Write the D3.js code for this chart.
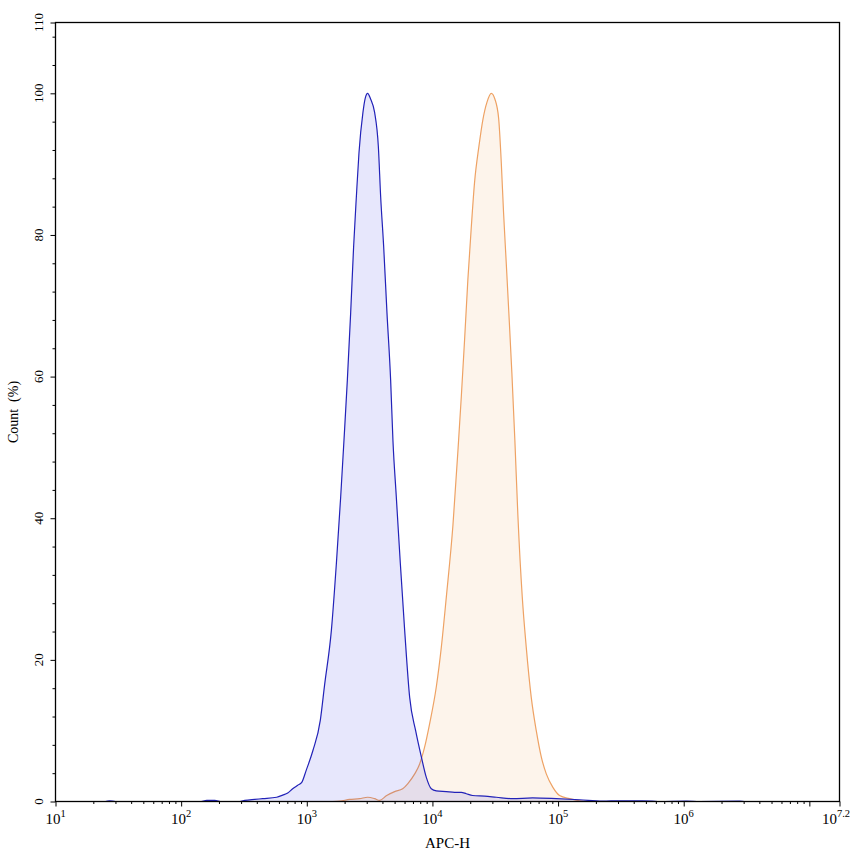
<!DOCTYPE html>
<html lang="en">
<head>
<meta charset="UTF-8">
<title>APC-H histogram</title>
<script src="https://d3js.org/d3.v7.min.js"></script>
<style>
  body { margin: 0; background: #fff; }
  svg { display: block; font-family: "Liberation Serif", "Times New Roman", serif; }
</style>
</head>
<body>
<svg id="chart" width="853" height="856"></svg>
<script>
// APC-H value / count (%) pairs
const blueApc = [20, 25, 27, 30, 141, 160, 185, 211, 293, 321, 385, 446, 576, 643, 705, 772, 847, 912,
  989, 1119, 1282, 1387, 1570, 1720, 1861, 1977, 2103, 2235, 2360, 2481, 2603, 2799, 2917, 3051,
  3219, 3467, 3712, 3873, 4091, 4348, 4650, 4849, 5159, 5554, 6012, 6590, 7352, 8163, 8941, 9797,
  10735, 12889, 15020, 16982, 18600, 20893, 26022, 32220, 43442, 62653, 96780, 148253,
  225800, 308300, 444600, 564000, 641000, 1050000, 1340000, 2780000, 3100000, 17000000];
const blueCount = [0, 0, 0.1, 0, 0, 0.15, 0.15, 0, 0, 0.15, 0.3, 0.4, 0.6, 0.9, 1.2, 1.8, 2.3, 2.7,
  4.4, 7.2, 11.5, 16.5, 24.2, 33.6, 43, 51, 59.5, 69, 78.4, 85.4, 91.6, 97.3, 99.3, 100,
  99.2, 97.3, 92.5, 85.4, 78.4, 69, 59.5, 51, 43, 33.6, 24.2, 14.7, 10, 6.3, 3.4, 1.8,
  1.5, 1.4, 1.3, 1.3, 1.1, 0.85, 0.75, 0.6, 0.4, 0.5, 0.4, 0.25,
  0.05, 0.1, 0.08, 0.05, 0, 0.05, 0, 0.05, 0, 0];

const orangeApc = [1607, 1828, 2193, 2635, 3051, 3467, 3800, 4325, 5003, 5797, 6353, 7228, 7914,
  8673, 9506, 10740, 11775, 12906, 14564, 16155, 16982, 18030, 19150, 20370, 21660, 23440,
  25220, 27230, 29420, 31400, 33640, 35330, 36840, 38700, 40600, 42890, 45310, 47860, 51870, 55810,
  61180, 67070, 73520, 80590, 90960, 102800, 123500, 148300, 178200];
const orangeCount = [0, 0.05, 0.3, 0.4, 0.6, 0.4, 0.15, 0.85, 1.4, 1.8, 2.5, 3.9, 5.3,
  7.7, 11, 16.2, 21.8, 28.9, 39, 51, 57.2, 65.2, 73.7, 81, 87.5, 92.5,
  96.3, 98.8, 100, 99.2, 96.5, 90.2, 83.1, 76, 68.9, 60.5, 51, 40.5, 28.9, 21.8,
  14.7, 10, 6.3, 3.9, 2.0, 0.85, 0.4, 0.1, 0];

// axis settings
const xMaxExp = 7.24;
const xLabelExps = [1, 2, 3, 4, 5, 6];
const xLastLabel = "7.2";
const yMajorTicks = [0, 20, 40, 60, 80, 100, 110];
const yMinorTicks = [4, 8, 12, 16, 24, 28, 32, 36, 44, 48, 52, 56, 64, 68, 72, 76, 84, 88, 92, 96, 104, 108];

const width = 853, height = 856;
const margin = {top: 22.5, right: 13.5, bottom: 54.5, left: 55.5};

const svg = d3.select("#chart");

const x = d3.scaleLog()
    .domain([10, Math.pow(10, xMaxExp)])
    .range([margin.left, width - margin.right]);

const y = d3.scaleLinear()
    .domain([0, 110])
    .range([height - margin.bottom, margin.top]);

svg.append("defs").append("clipPath")
    .attr("id", "plot-clip")
  .append("rect")
    .attr("x", margin.left)
    .attr("y", margin.top)
    .attr("width", width - margin.left - margin.right)
    .attr("height", height - margin.top - margin.bottom);

const area = d3.area()
    .x(d => x(d[0]))
    .y0(y(0))
    .y1(d => y(d[1]))
    .curve(d3.curveMonotoneX);

const line = d3.line()
    .x(d => x(d[0]))
    .y(d => y(d[1]))
    .curve(d3.curveMonotoneX);

const plot = svg.append("g").attr("clip-path", "url(#plot-clip)");

const series = [
    {data: d3.zip(orangeApc, orangeCount), fill: "rgba(240,150,60,0.1)", stroke: "#eea264"},
    {data: d3.zip(blueApc, blueCount), fill: "rgba(20,20,230,0.1)", stroke: "#2222b8"}
];

series.forEach(s => {
    plot.append("path")
        .datum(s.data)
        .attr("d", area)
        .attr("fill", s.fill);
    plot.append("path")
        .datum(s.data)
        .attr("d", line)
        .attr("fill", "none")
        .attr("stroke", s.stroke)
        .attr("stroke-width", 1.2);
});

// x ticks
const xMinor = [];
for (let k = 1; k <= 7; k++) {
    for (let m = 2; m <= 9; m++) {
        const v = m * Math.pow(10, k);
        if (v < Math.pow(10, xMaxExp)) xMinor.push(v);
    }
}
const xMajor = [1, 2, 3, 4, 5, 6, 7].map(k => Math.pow(10, k)).concat([Math.pow(10, xMaxExp)]);

const xAxisY = height - margin.bottom;
svg.append("g")
    .attr("transform", `translate(0,${xAxisY})`)
    .call(d3.axisBottom(x).tickValues(xMinor).tickSize(2.5).tickFormat(""))
    .call(g => g.select(".domain").remove());
svg.append("g")
    .attr("transform", `translate(0,${xAxisY})`)
    .call(d3.axisBottom(x).tickValues(xMajor).tickSize(5).tickFormat(""))
    .call(g => g.select(".domain").remove());

const xLabels = xLabelExps.map(e => ({v: Math.pow(10, e), exp: String(e), shift: 0}))
    .concat([{v: Math.pow(10, xMaxExp), exp: xLastLabel, shift: -3.5}]);

const xl = svg.append("g")
    .selectAll("text")
    .data(xLabels)
    .join("text")
    .attr("x", d => x(d.v) + d.shift)
    .attr("y", 823.5)
    .attr("text-anchor", "middle")
    .attr("font-size", 15)
    .attr("fill", "#000");
xl.append("tspan").text("10");
xl.append("tspan")
    .attr("dy", -6.5)
    .attr("font-size", 10.5)
    .text(d => d.exp);

// y ticks
svg.append("g")
    .attr("transform", `translate(${margin.left},0)`)
    .call(d3.axisLeft(y).tickValues(yMinorTicks).tickSize(3).tickFormat(""))
    .call(g => g.select(".domain").remove());
svg.append("g")
    .attr("transform", `translate(${margin.left},0)`)
    .call(d3.axisLeft(y).tickValues(yMajorTicks).tickSize(5).tickFormat(""))
    .call(g => g.select(".domain").remove());

svg.append("g")
    .selectAll("text")
    .data(yMajorTicks)
    .join("text")
    .attr("transform", d => `translate(43,${y(d)}) rotate(-90)`)
    .attr("text-anchor", "middle")
    .attr("font-size", 13)
    .attr("fill", "#000")
    .text(d => d);

// frame
svg.append("rect")
    .attr("x", margin.left)
    .attr("y", margin.top)
    .attr("width", width - margin.left - margin.right)
    .attr("height", height - margin.top - margin.bottom)
    .attr("fill", "none")
    .attr("stroke", "#000")
    .attr("stroke-width", 1.3);

// axis titles
svg.append("text")
    .attr("x", (margin.left + width - margin.right) / 2)
    .attr("y", 848)
    .attr("text-anchor", "middle")
    .attr("font-size", 15)
    .text("APC-H");

svg.append("text")
    .attr("transform", `translate(18,${(margin.top + height - margin.bottom) / 2}) rotate(-90)`)
    .attr("text-anchor", "middle")
    .attr("font-size", 14)
    .attr("xml:space", "preserve")
    .text("Count  (%)");
</script>
</body>
</html>
